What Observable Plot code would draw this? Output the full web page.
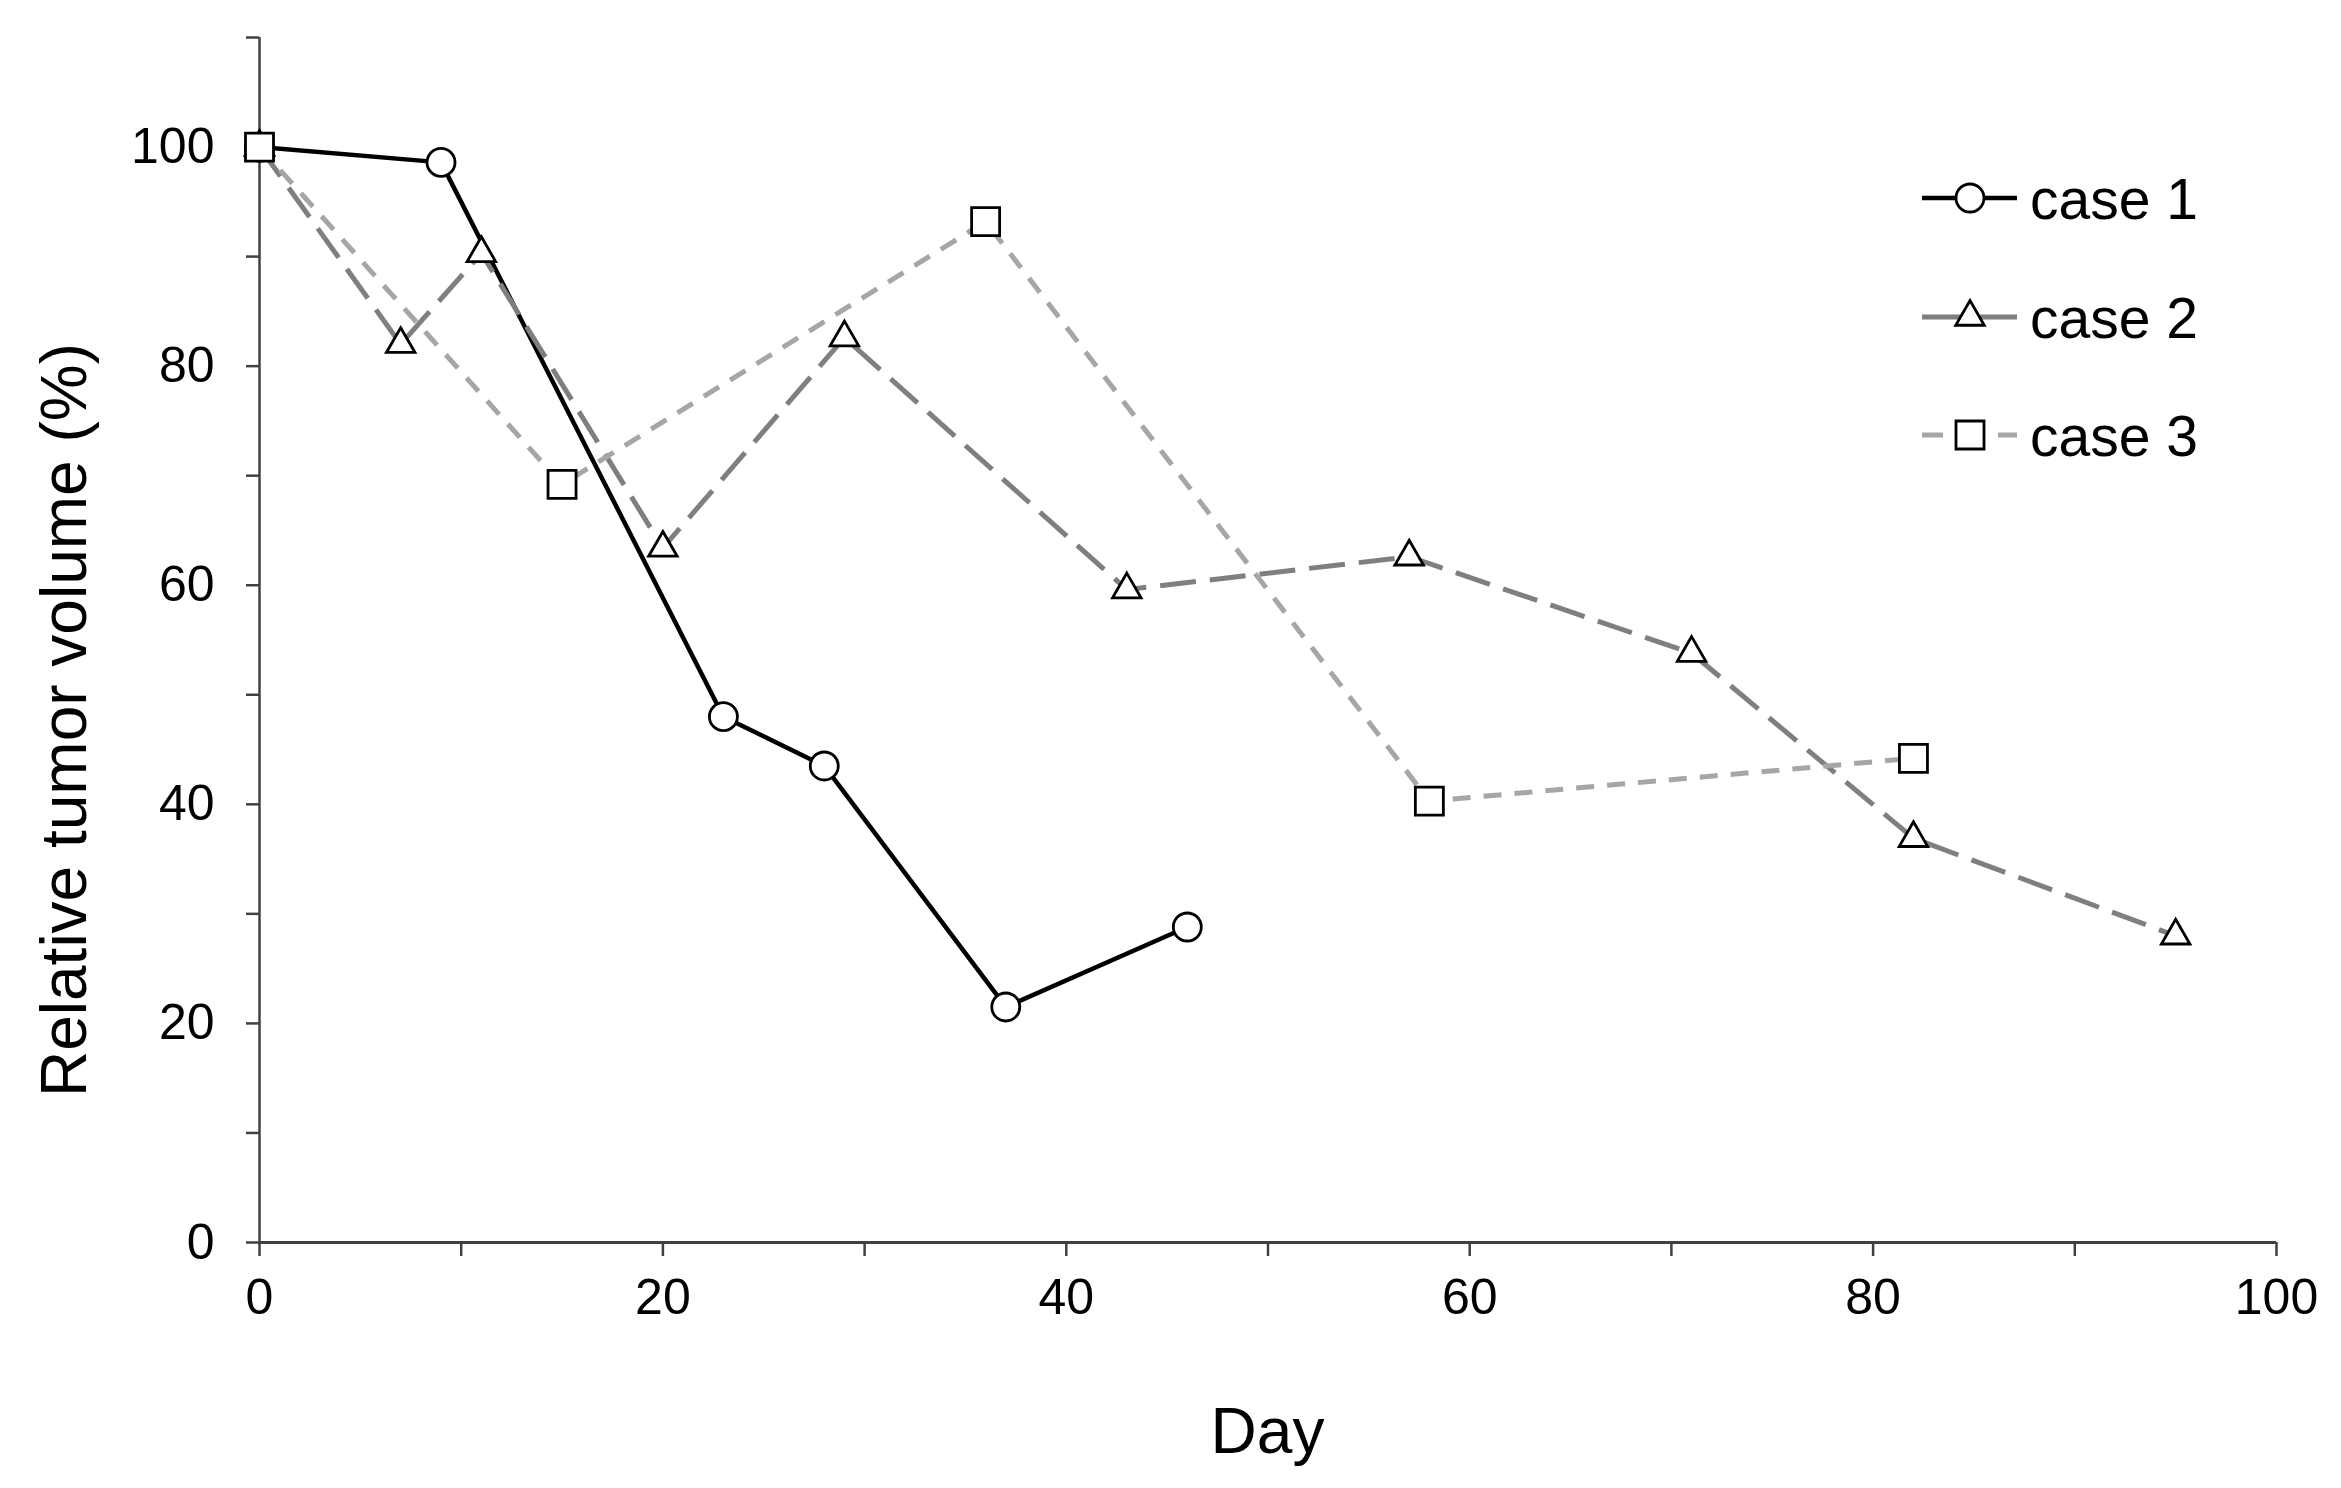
<!DOCTYPE html>
<html><head><meta charset="utf-8">
<script src="https://cdn.jsdelivr.net/npm/d3@7"></script>
<script src="https://cdn.jsdelivr.net/npm/@observablehq/plot@0.6"></script>
<style>html,body{margin:0;padding:0;background:#fff;} svg{display:block}</style>
</head><body><div id="chart"></div>
<script>
// ---- data ----
const seriesNames = ["case 1", "case 2", "case 3"];
const case1Day = [0, 9, 23, 28, 37, 46];
const case1Vol = [100, 98.6, 48, 43.5, 21.5, 28.8];
const case2Day = [0, 7, 11, 20, 29, 43, 57, 71, 82, 95];
const case2Vol = [100, 82, 90.3, 63.4, 82.6, 59.6, 62.6, 53.8, 36.9, 28];
const case3Day = [0, 15, 36, 58, 82];
const case3Vol = [100, 69.2, 93.2, 40.3, 44.2];
const xTicks = d3.range(0, 101, 10);
const yTicks = d3.range(0, 111, 10);
const xTickLabels = [0, 20, 40, 60, 80, 100];
const yTickLabels = [0, 20, 40, 60, 80, 100];
const xTitle = "Day";
const yTitle = "Relative tumor volume (%)";

const rows = (days, vols) => days.map((d, i) => ({day: d, vol: vols[i]}));
const data = [rows(case1Day, case1Vol), rows(case2Day, case2Vol), rows(case3Day, case3Vol)];

const styles = [
  {stroke: "#000000", width: 4.5, dash: null, symbol: "circle", r: 14},
  {stroke: "#7f7f7f", width: 5, dash: "36,14", symbol: "triangle", r: 10.6},
  {stroke: "#a6a6a6", width: 5, dash: "18,13", symbol: "square", r: 15.8}
];

const W = 2341, H = 1488;
const mL = 259, mR = 65, mT = 37, mB = 246;
const axisColor = "#404040";
const font = "'Liberation Sans', Arial, Helvetica, sans-serif";

const marks = [];
data.forEach((rowsI, i) => {
  const s = styles[i];
  marks.push(Plot.line(rowsI, {x: "day", y: "vol", stroke: s.stroke, strokeWidth: s.width,
    strokeDasharray: s.dash, strokeLinejoin: "round", strokeLinecap: "butt"}));
  marks.push(Plot.dot(rowsI, {x: "day", y: "vol", symbol: s.symbol, r: s.r, fill: "white",
    stroke: "black", strokeWidth: 2.8}));
});

const plot = Plot.plot({
  width: W, height: H,
  marginLeft: mL, marginRight: mR, marginTop: mT, marginBottom: mB,
  style: {fontFamily: font, background: "white", color: "black", overflow: "visible"},
  x: {domain: [0, 100]},
  y: {domain: [0, 110]},
  marks: [
    Plot.axisY({ticks: yTicks, tickSize: 13, tickPadding: 32, fontSize: 50, stroke: axisColor, strokeWidth: 2.5,
      tickFormat: d => yTickLabels.includes(d) ? String(d) : "", label: null, fill: "black"}),
    Plot.axisX({ticks: xTicks, tickSize: 14, tickPadding: 22, fontSize: 50, stroke: axisColor, strokeWidth: 2.5,
      tickFormat: d => xTickLabels.includes(d) ? String(d) : "", label: null, fill: "black"}),
    Plot.ruleX([0], {stroke: axisColor, strokeWidth: 2.5}),
    Plot.ruleY([0], {stroke: axisColor, strokeWidth: 3}),
    ...marks
  ]
});

const svg = d3.select(plot);
// axis titles
svg.append("text").attr("x", (mL + W - mR) / 2).attr("y", 1430).attr("dy", "0.36em")
  .attr("text-anchor", "middle").attr("font-size", 64).attr("font-family", font).attr("fill", "black").text(xTitle);
svg.append("text").attr("transform", "translate(63,720) rotate(-90)").attr("dy", "0.36em")
  .attr("text-anchor", "middle").attr("font-size", 64).attr("font-family", font).attr("fill", "black").text(yTitle);

// legend
const legY = [198, 317, 435];
const lx0 = 1922, lx1 = 2017, lxm = 1970, ltx = 2030;
const legDash = [null, null, "21,55,19"];
seriesNames.forEach((name, i) => {
  const s = styles[i];
  const g = svg.append("g");
  g.append("line").attr("x1", lx0).attr("x2", lx1).attr("y1", legY[i]).attr("y2", legY[i])
    .attr("stroke", s.stroke).attr("stroke-width", s.width).attr("stroke-dasharray", legDash[i]);
  const sym = {circle: d3.symbolCircle, triangle: d3.symbolTriangle, square: d3.symbolSquare}[s.symbol];
  g.append("path").attr("d", d3.symbol(sym, s.r * s.r * Math.PI)())
    .attr("transform", `translate(${lxm},${legY[i]})`).attr("fill", "white").attr("stroke", "black").attr("stroke-width", 2.8);
  g.append("text").attr("x", ltx).attr("y", legY[i]).attr("dy", "0.36em").attr("font-size", 57)
    .attr("text-anchor", "start").attr("font-family", font).attr("fill", "black").text(name);
});

document.getElementById("chart").appendChild(plot);
</script></body></html>
